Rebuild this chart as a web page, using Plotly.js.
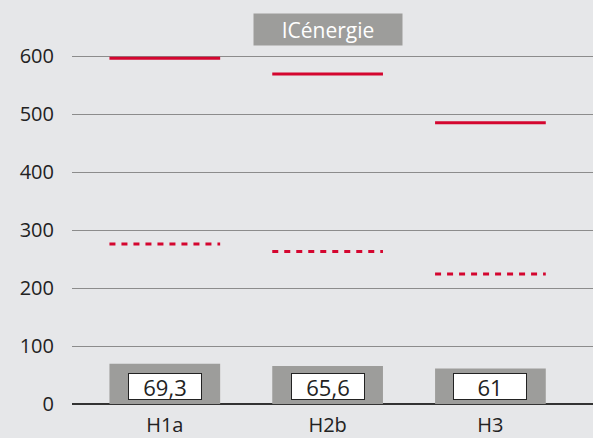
<!DOCTYPE html>
<html><head><meta charset="utf-8">
<script src="https://cdn.plot.ly/plotly-3.0.1.min.js"></script>
<style>html,body{margin:0;padding:0;background:#e6e7e9;}</style>
</head><body><div id="chart" style="width:593px;height:438px;"></div>
<script>
const categories = ["H1a", "H2b", "H3"];
const barValues = [69.3, 65.6, 61];
const barLabels = ["69,3", "65,6", "61"];
const solidValues = [596, 569, 485];
const dashedValues = [276, 263, 224];
const titleText = "ICénergie";

const xs = categories.map((c, i) => i);
const half = 0.34;
function segs(vals) {
  const x = [], y = [];
  vals.forEach((v, i) => { x.push(i - half, i + half, null); y.push(v, v, null); });
  return {x, y};
}
const s = segs(solidValues), d = segs(dashedValues);
const font = "'Open Sans', 'Noto Sans', sans-serif";

const traces = [
  {type: "bar", x: xs, y: barValues, width: 0.68, marker: {color: "#9d9d9b"}, hoverinfo: "skip"},
  {type: "scatter", mode: "lines", x: s.x, y: s.y, line: {color: "#d4062f", width: 3}, connectgaps: false},
  {type: "scatter", mode: "lines", x: d.x, y: d.y, line: {color: "#d4062f", width: 3, dash: "6px,6px"}, connectgaps: false}
];

const annotations = barLabels.map((t, i) => ({
  x: i, y: 30, xref: "x", yref: "y", text: t, showarrow: false,
  bgcolor: "#ffffff", bordercolor: "#222222", borderwidth: 1, borderpad: 0, width: 72, height: 25,
  font: {family: font, size: 22, color: "#222"}
}));
annotations.push({
  x: 1, xref: "x", y: 1, yref: "paper", xanchor: "center", yanchor: "top",
  yshift: -8,
  text: titleText, showarrow: false, bgcolor: "#9d9d9b", borderpad: 0, width: 148, height: 31,
  font: {family: font, size: 21, color: "#ffffff"}
});

const layout = {
  width: 593, height: 438,
  margin: {l: 72, r: 0, t: 5, b: 34},
  paper_bgcolor: "#e6e7e9", plot_bgcolor: "#e6e7e9",
  showlegend: false,
  xaxis: {
    range: [-0.57, 2.63], tickvals: xs, ticktext: categories,
    showgrid: false, zeroline: false, showline: false, ticks: "", ticklabelstandoff: 7,
    tickfont: {family: font, size: 20, color: "#222"}, fixedrange: true
  },
  yaxis: {
    range: [0, 688], tickvals: [0, 100, 200, 300, 400, 500, 600],
    showgrid: true, gridcolor: "#8c8c8c", gridwidth: 1,
    zeroline: true, zerolinecolor: "#333", zerolinewidth: 1.5,
    ticks: "", ticklabelstandoff: 17,
    tickfont: {family: font, size: 20, color: "#222"}, fixedrange: true
  },
  annotations
};
Plotly.newPlot("chart", traces, layout, {displayModeBar: false, staticPlot: true});
</script></body></html>
